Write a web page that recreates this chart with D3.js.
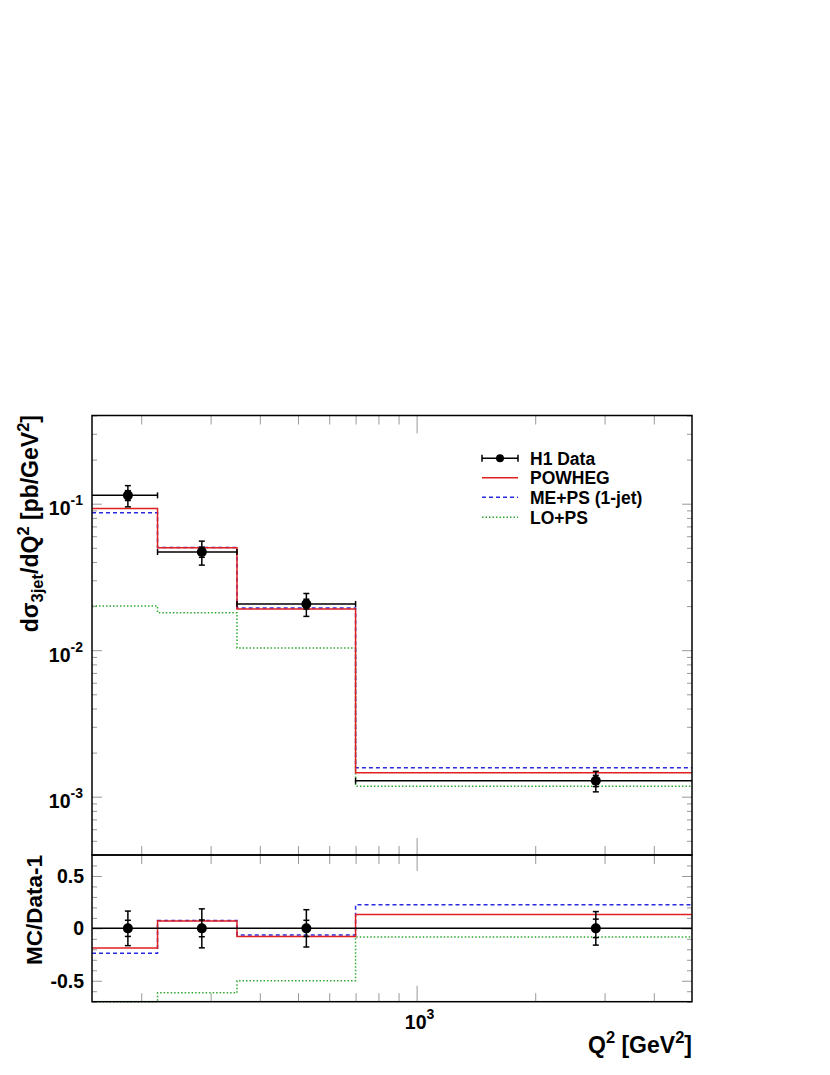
<!DOCTYPE html>
<html><head><meta charset="utf-8">
<script src="https://cdn.jsdelivr.net/npm/d3@7"></script>
<style>
body{margin:0;background:#fff}
text{font-family:"Liberation Sans",Arial,Helvetica,sans-serif;font-weight:bold;fill:#000}
</style>
</head><body>
<svg id="c" width="830" height="1075"></svg>
<script>
// ---- data ----
const binEdges = [150, 220, 350, 700, 5000];
const dataX    = [185, 285, 525, 2850];
const dataY    = [0.114, 0.0468, 0.0207, 0.001285];
const statErr  = [0.077, 0.080, 0.077, 0.088];   // relative
const totErr   = [0.165, 0.186, 0.178, 0.160];   // relative
const powhegY  = [0.0927, 0.0501, 0.0191, 0.001455];
const mepsY    = [0.0868, 0.0503, 0.0194, 0.001575];
const lopsY    = [0.0200, 0.0180, 0.01035, 0.00118];
const seriesNames = ["H1 Data", "POWHEG", "ME+PS (1-jet)", "LO+PS"];
const yMajor = [1e-3, 1e-2, 1e-1];
const yMajorExp = ["-3", "-2", "-1"];
const rMajor = [-0.5, 0, 0.5];
const rLabels = ["-0.5", "0", "0.5"];
const xMajor = [1000];
const xMajorExp = ["3"];

const svg = d3.select("#c");
svg.append("rect").attr("width",830).attr("height",1075).attr("fill","#fff");

const L = 92, R = 692, T = 415.5, M = 855, B = 1001.7;
const x  = d3.scaleLog().domain([150, 5000]).range([L, R]);
const y  = d3.scaleLog().domain([4e-4, 0.4]).range([M, T]);
const yr = d3.scaleLinear().domain([-0.7, 0.7]).range([B, M]).clamp(true);

const tickCol = "#999";
function styleAxis(g){ g.select(".domain").remove(); g.selectAll("line").attr("stroke",tickCol).attr("stroke-width",1); g.selectAll("text").remove(); }

const xAll = x.ticks();
const xMinor = xAll.filter(v => !xMajor.includes(v) && v < 5000);
// main panel x ticks
svg.append("g").attr("transform",`translate(0,${T})`).call(d3.axisBottom(x).tickValues(xMinor).tickSize(9).tickFormat("")).call(styleAxis);
svg.append("g").attr("transform",`translate(0,${T})`).call(d3.axisBottom(x).tickValues(xMajor).tickSize(18).tickFormat("")).call(styleAxis);
svg.append("g").attr("transform",`translate(0,${M})`).call(d3.axisTop(x).tickValues(xMinor).tickSize(9).tickFormat("")).call(styleAxis);
svg.append("g").attr("transform",`translate(0,${M})`).call(d3.axisTop(x).tickValues(xMajor).tickSize(17).tickFormat("")).call(styleAxis);
// ratio panel x ticks
svg.append("g").attr("transform",`translate(0,${M})`).call(d3.axisBottom(x).tickValues(xMinor).tickSize(9).tickFormat("")).call(styleAxis);
svg.append("g").attr("transform",`translate(0,${M})`).call(d3.axisBottom(x).tickValues(xMajor).tickSize(16).tickFormat("")).call(styleAxis);
svg.append("g").attr("transform",`translate(0,${B})`).call(d3.axisTop(x).tickValues(xMinor).tickSize(8.5).tickFormat("")).call(styleAxis);
svg.append("g").attr("transform",`translate(0,${B})`).call(d3.axisTop(x).tickValues(xMajor).tickSize(16).tickFormat("")).call(styleAxis);

// main y ticks
const yAll = y.ticks();
const yMinor = yAll.filter(v => !yMajor.some(m => Math.abs(m - v)/m < 1e-6));
[[L, d3.axisRight],[R, d3.axisLeft]].forEach(([px, ax]) => {
  svg.append("g").attr("transform",`translate(${px},0)`).call(ax(y).tickValues(yMinor).tickSize(5).tickFormat("")).call(styleAxis);
  svg.append("g").attr("transform",`translate(${px},0)`).call(ax(y).tickValues(yMajor).tickSize(10).tickFormat("")).call(styleAxis);
});
// ratio y ticks
const rAll = yr.ticks(14);
const rMinor = rAll.filter(v => !rMajor.some(m => Math.abs(m - v) < 1e-9));
[[L, d3.axisRight],[R, d3.axisLeft]].forEach(([px, ax]) => {
  svg.append("g").attr("transform",`translate(${px},0)`).call(ax(yr).tickValues(rMinor).tickSize(5).tickFormat("")).call(styleAxis);
  svg.append("g").attr("transform",`translate(${px},0)`).call(ax(yr).tickValues(rMajor).tickSize(10).tickFormat("")).call(styleAxis);
});

// tick labels
yMajor.forEach((v,i) => {
  const t = svg.append("text").attr("x",83).attr("y",y(v)+11.5).attr("text-anchor","end").attr("font-size",19.5);
  t.append("tspan").text("10");
  t.append("tspan").attr("font-size",14).attr("dy",-10).text(yMajorExp[i]);
});
rMajor.forEach((v,i) => {
  svg.append("text").attr("x",84).attr("y",yr(v)+7).attr("text-anchor","end").attr("font-size",19.5).text(rLabels[i]);
});
xMajor.forEach((v,i) => {
  const t = svg.append("text").attr("x",x(v)+3).attr("y",1029).attr("text-anchor","middle").attr("font-size",19.5);
  t.append("tspan").text("10");
  t.append("tspan").attr("font-size",14).attr("dy",-10).text(xMajorExp[i]);
});

// axis titles
{
  const t = svg.append("text").attr("transform","translate(38,415) rotate(-90)").attr("text-anchor","end").attr("font-size",23);
  t.append("tspan").text("dσ");
  t.append("tspan").attr("font-size",16.5).attr("dy",5).text("3jet");
  t.append("tspan").attr("dy",-5).text("/dQ");
  t.append("tspan").attr("font-size",16.5).attr("dy",-9).text("2");
  t.append("tspan").attr("dy",9).text(" [pb/GeV");
  t.append("tspan").attr("font-size",16.5).attr("dy",-9).text("2");
  t.append("tspan").attr("dy",9).text("]");
}
svg.append("text").attr("transform","translate(41.5,855) rotate(-90)").attr("text-anchor","end").attr("font-size",22.5).text("MC/Data-1");
{
  const t = svg.append("text").attr("x",692).attr("y",1053).attr("text-anchor","end").attr("font-size",23);
  t.append("tspan").text("Q");
  t.append("tspan").attr("font-size",16.5).attr("dy",-10).text("2");
  t.append("tspan").attr("dy",10).text(" [GeV");
  t.append("tspan").attr("font-size",16.5).attr("dy",-10).text("2");
  t.append("tspan").attr("dy",10).text("]");
}

// step histograms
const styles = [
  {vals: powhegY, color:"#e02020", dash:null},
  {vals: mepsY,   color:"#2a2ade", dash:"4,3"},
  {vals: lopsY,   color:"#30a830", dash:"1.5,2"}
];
function stepPts(vals){ const p=[]; vals.forEach((v,i)=>{ p.push([binEdges[i],v]); p.push([binEdges[i+1],v]); }); return p; }
const lineMain = d3.line().x(d=>x(d[0])).y(d=>y(d[1]));
const lineRat  = d3.line().x(d=>x(d[0])).y(d=>yr(d[1]));
styles.slice().reverse().forEach(s => {
  svg.append("path").attr("d", lineMain(stepPts(s.vals))).attr("fill","none").attr("stroke",s.color).attr("stroke-width",1.5).attr("stroke-dasharray",s.dash);
  const ratio = s.vals.map((v,i)=> v/dataY[i]-1);
  svg.append("path").attr("d", lineRat(stepPts(ratio))).attr("fill","none").attr("stroke",s.color).attr("stroke-width",1.5).attr("stroke-dasharray",s.dash);
});

// ratio zero line
svg.append("line").attr("x1",L).attr("x2",R).attr("y1",yr(0)).attr("y2",yr(0)).attr("stroke","#000").attr("stroke-width",1.5);

// data points main
const dg = svg.append("g").attr("stroke","#000").attr("stroke-width",1.5);
dataY.forEach((v,i) => {
  const cx = x(dataX[i]), cy = y(v);
  const x0 = x(binEdges[i]), x1 = x(binEdges[i+1]);
  dg.append("line").attr("x1",x0).attr("x2",x1).attr("y1",cy).attr("y2",cy);
  [x0,x1].forEach(xx => { if (xx > L+1 && xx < R-1) dg.append("line").attr("x1",xx).attr("x2",xx).attr("y1",cy-3).attr("y2",cy+3); });
  const yt = y(v*(1+totErr[i])), yb = y(v*(1-totErr[i]));
  dg.append("line").attr("x1",cx).attr("x2",cx).attr("y1",yt).attr("y2",yb);
  [yt, yb, y(v*(1+statErr[i])), y(v*(1-statErr[i]))].forEach(yy =>
    dg.append("line").attr("x1",cx-3).attr("x2",cx+3).attr("y1",yy).attr("y2",yy));
  svg.append("circle").attr("cx",cx).attr("cy",cy).attr("r",5).attr("fill","#000");
  // ratio
  const ry = yr(0);
  dg.append("line").attr("x1",cx).attr("x2",cx).attr("y1",yr(totErr[i])).attr("y2",yr(-totErr[i]));
  [totErr[i], -totErr[i], statErr[i], -statErr[i]].forEach(e =>
    dg.append("line").attr("x1",cx-3).attr("x2",cx+3).attr("y1",yr(e)).attr("y2",yr(e)));
  svg.append("circle").attr("cx",cx).attr("cy",ry).attr("r",5).attr("fill","#000");
});

// frames
svg.append("rect").attr("x",L).attr("y",T).attr("width",R-L).attr("height",M-T).attr("fill","none").attr("stroke","#000").attr("stroke-width",1.5);
svg.append("rect").attr("x",L).attr("y",M).attr("width",R-L).attr("height",B-M).attr("fill","none").attr("stroke","#000").attr("stroke-width",1.5);

// legend
const lg = svg.append("g");
const lx0 = 482, lx1 = 518, ltx = 530;
const rows = [458.3, 477.7, 497.3, 517.3];
lg.append("line").attr("x1",lx0).attr("x2",lx1).attr("y1",rows[0]).attr("y2",rows[0]).attr("stroke","#000").attr("stroke-width",1.5);
[lx0,lx1].forEach(xx=>lg.append("line").attr("x1",xx).attr("x2",xx).attr("y1",rows[0]-3.5).attr("y2",rows[0]+3.5).attr("stroke","#000").attr("stroke-width",1.5));
lg.append("circle").attr("cx",(lx0+lx1)/2).attr("cy",rows[0]).attr("r",4).attr("fill","#000");
styles.forEach((s,i)=>{
  lg.append("line").attr("x1",lx0).attr("x2",lx1).attr("y1",rows[i+1]).attr("y2",rows[i+1]).attr("stroke",s.color).attr("stroke-width",1.5).attr("stroke-dasharray",s.dash);
});
seriesNames.forEach((n,i)=>{
  lg.append("text").attr("x",ltx).attr("y",rows[i]+6.3).attr("font-size",17.5).text(n);
});
</script>
</body></html>
